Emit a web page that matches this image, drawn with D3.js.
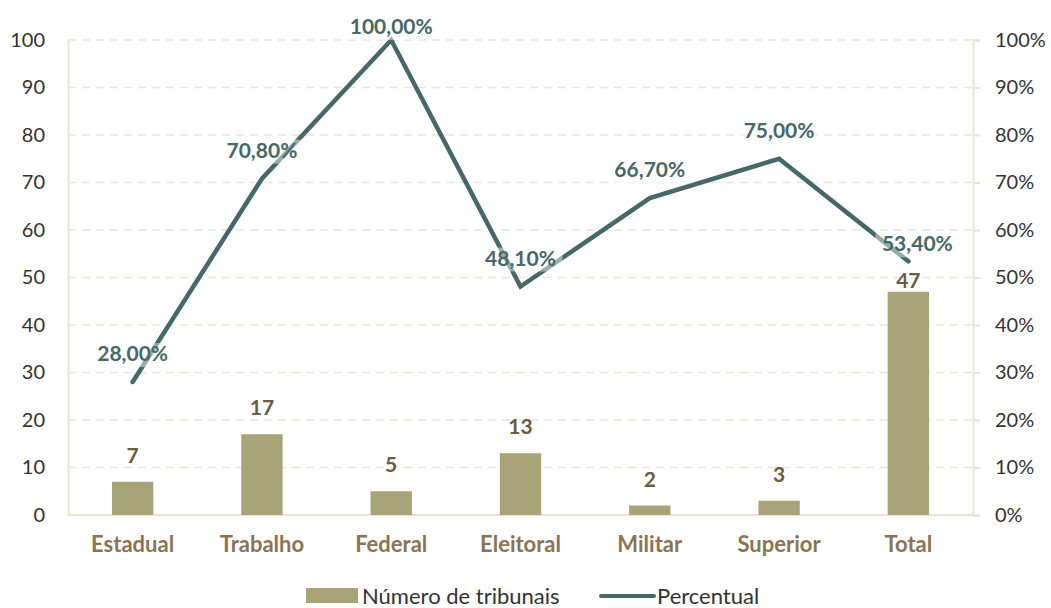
<!DOCTYPE html>
<html>
<head>
<meta charset="utf-8">
<script src="https://cdn.jsdelivr.net/npm/d3@7"></script>
<style>
  body { margin: 0; background: #fff; }
  svg text { font-family: Lato, "Open Sans", sans-serif; }
</style>
</head>
<body>
<div id="chart"></div>
<script>
// --- data ---
const categories = ["Estadual", "Trabalho", "Federal", "Eleitoral", "Militar", "Superior", "Total"];
const tribunais = [7, 17, 5, 13, 2, 3, 47];
const percentual = [28.0, 70.8, 100.0, 48.1, 66.7, 75.0, 53.4];
const leftTicks = [0, 10, 20, 30, 40, 50, 60, 70, 80, 90, 100];
const rightTicks = [0, 10, 20, 30, 40, 50, 60, 70, 80, 90, 100];

const W = 1051, H = 608;
const margin = { top: 40, right: 78, bottom: 93, left: 68 };

const barColor = "#a8a47a";
const lineColor = "#466866";
const brown = "#8a7454";
const darkBrown = "#6b5c44";
const axisColor = "#e9e5d3";
const textColor = "#333";

const svg = d3.select("#chart").append("svg")
    .attr("width", W).attr("height", H);

const x = d3.scaleBand()
    .domain(categories)
    .range([margin.left, W - margin.right])
    .paddingInner(0.68).paddingOuter(0.34);

const y = d3.scaleLinear().domain([0, 100]).range([H - margin.bottom, margin.top]);
const y2 = d3.scaleLinear().domain([0, 100]).range([H - margin.bottom, margin.top]);

// gridlines
svg.append("g")
    .selectAll("line")
    .data(leftTicks.filter(d => d > 0))
    .join("line")
    .attr("x1", margin.left).attr("x2", W - margin.right)
    .attr("y1", d => y(d)).attr("y2", d => y(d))
    .attr("stroke", "#e8e6df")
    .attr("stroke-width", 1.3)
    .attr("stroke-dasharray", "8,6");

// left axis
const leftAxis = svg.append("g")
    .attr("transform", `translate(${margin.left},0)`)
    .call(d3.axisLeft(y).tickValues(leftTicks).tickSize(0).tickPadding(23));
leftAxis.select(".domain").attr("stroke", axisColor).attr("stroke-width", 2);
leftAxis.selectAll("text").attr("font-size", 20).attr("fill", textColor);

// right axis
const rightAxis = svg.append("g")
    .attr("transform", `translate(${W - margin.right},0)`)
    .call(d3.axisRight(y2).tickValues(rightTicks).tickSize(7).tickPadding(15)
        .tickFormat(d => d + "%"));
rightAxis.select(".domain").attr("stroke", axisColor).attr("stroke-width", 2);
rightAxis.selectAll(".tick line").attr("stroke", axisColor).attr("stroke-width", 2);
rightAxis.selectAll("text").attr("font-size", 20).attr("fill", textColor);

// bottom baseline
svg.append("line")
    .attr("x1", margin.left).attr("x2", W - margin.right)
    .attr("y1", y(0)).attr("y2", y(0))
    .attr("stroke", axisColor).attr("stroke-width", 2);

// category labels
svg.append("g")
    .selectAll("text")
    .data(categories)
    .join("text")
    .attr("x", d => x(d) + x.bandwidth() / 2)
    .attr("y", y(0) + 37)
    .attr("text-anchor", "middle")
    .attr("font-size", 22)
    .attr("font-weight", "bold")
    .attr("fill", brown)
    .text(d => d);

// bars
svg.append("g")
    .selectAll("rect")
    .data(tribunais)
    .join("rect")
    .attr("x", (d, i) => x(categories[i]))
    .attr("y", d => y(d))
    .attr("width", x.bandwidth())
    .attr("height", d => y(0) - y(d))
    .attr("fill", barColor);

// bar labels (the last one sits closer to avoid the line)
svg.append("g")
    .selectAll("text")
    .data(tribunais)
    .join("text")
    .attr("x", (d, i) => x(categories[i]) + x.bandwidth() / 2)
    .attr("y", (d, i) => y(d) - (i === 6 ? 4 : 19))
    .attr("text-anchor", "middle")
    .attr("font-size", 21)
    .attr("font-weight", "bold")
    .attr("fill", darkBrown)
    .text(d => d);

// line
const pts = percentual.map((v, i) => [x(categories[i]) + x.bandwidth() / 2, y2(v)]);
svg.append("path")
    .datum(pts)
    .attr("d", d3.line())
    .attr("fill", "none")
    .attr("stroke", lineColor)
    .attr("stroke-width", 4.5)
    .attr("stroke-linecap", "round")
    .attr("stroke-linejoin", "miter");

// line labels with semi-transparent background
const fmt = v => v.toFixed(2).replace(".", ",") + "%";
const lbl = svg.append("g")
    .selectAll("g")
    .data(percentual)
    .join("g")
    .attr("transform", (d, i) => {
        const dx = i === 6 ? 9 : 0;
        const dy = i === 6 ? 10 : 21;
        return `translate(${pts[i][0] + dx},${Math.max(pts[i][1] - dy, 34)})`;
    });
lbl.append("rect")
    .attr("x", -42).attr("y", -18).attr("width", 84).attr("height", 24)
    .attr("fill", "#fff").attr("fill-opacity", 0.45);
lbl.append("text")
    .attr("text-anchor", "middle")
    .attr("font-size", 21)
    .attr("font-weight", "bold")
    .attr("fill", lineColor)
    .text(d => fmt(d));

// legend
const lg = svg.append("g").attr("transform", `translate(0, ${H - 4})`);
lg.append("rect").attr("x", 306).attr("y", -16).attr("width", 52).attr("height", 15).attr("fill", barColor);
lg.append("text").attr("x", 362).attr("y", 0).attr("font-size", 22).attr("fill", textColor).text("Número de tribunais");
lg.append("line").attr("x1", 601).attr("x2", 654).attr("y1", -8).attr("y2", -8)
    .attr("stroke", lineColor).attr("stroke-width", 4).attr("stroke-linecap", "round");
lg.append("text").attr("x", 657).attr("y", 0).attr("font-size", 22).attr("fill", textColor).text("Percentual");
</script>
</body>
</html>
